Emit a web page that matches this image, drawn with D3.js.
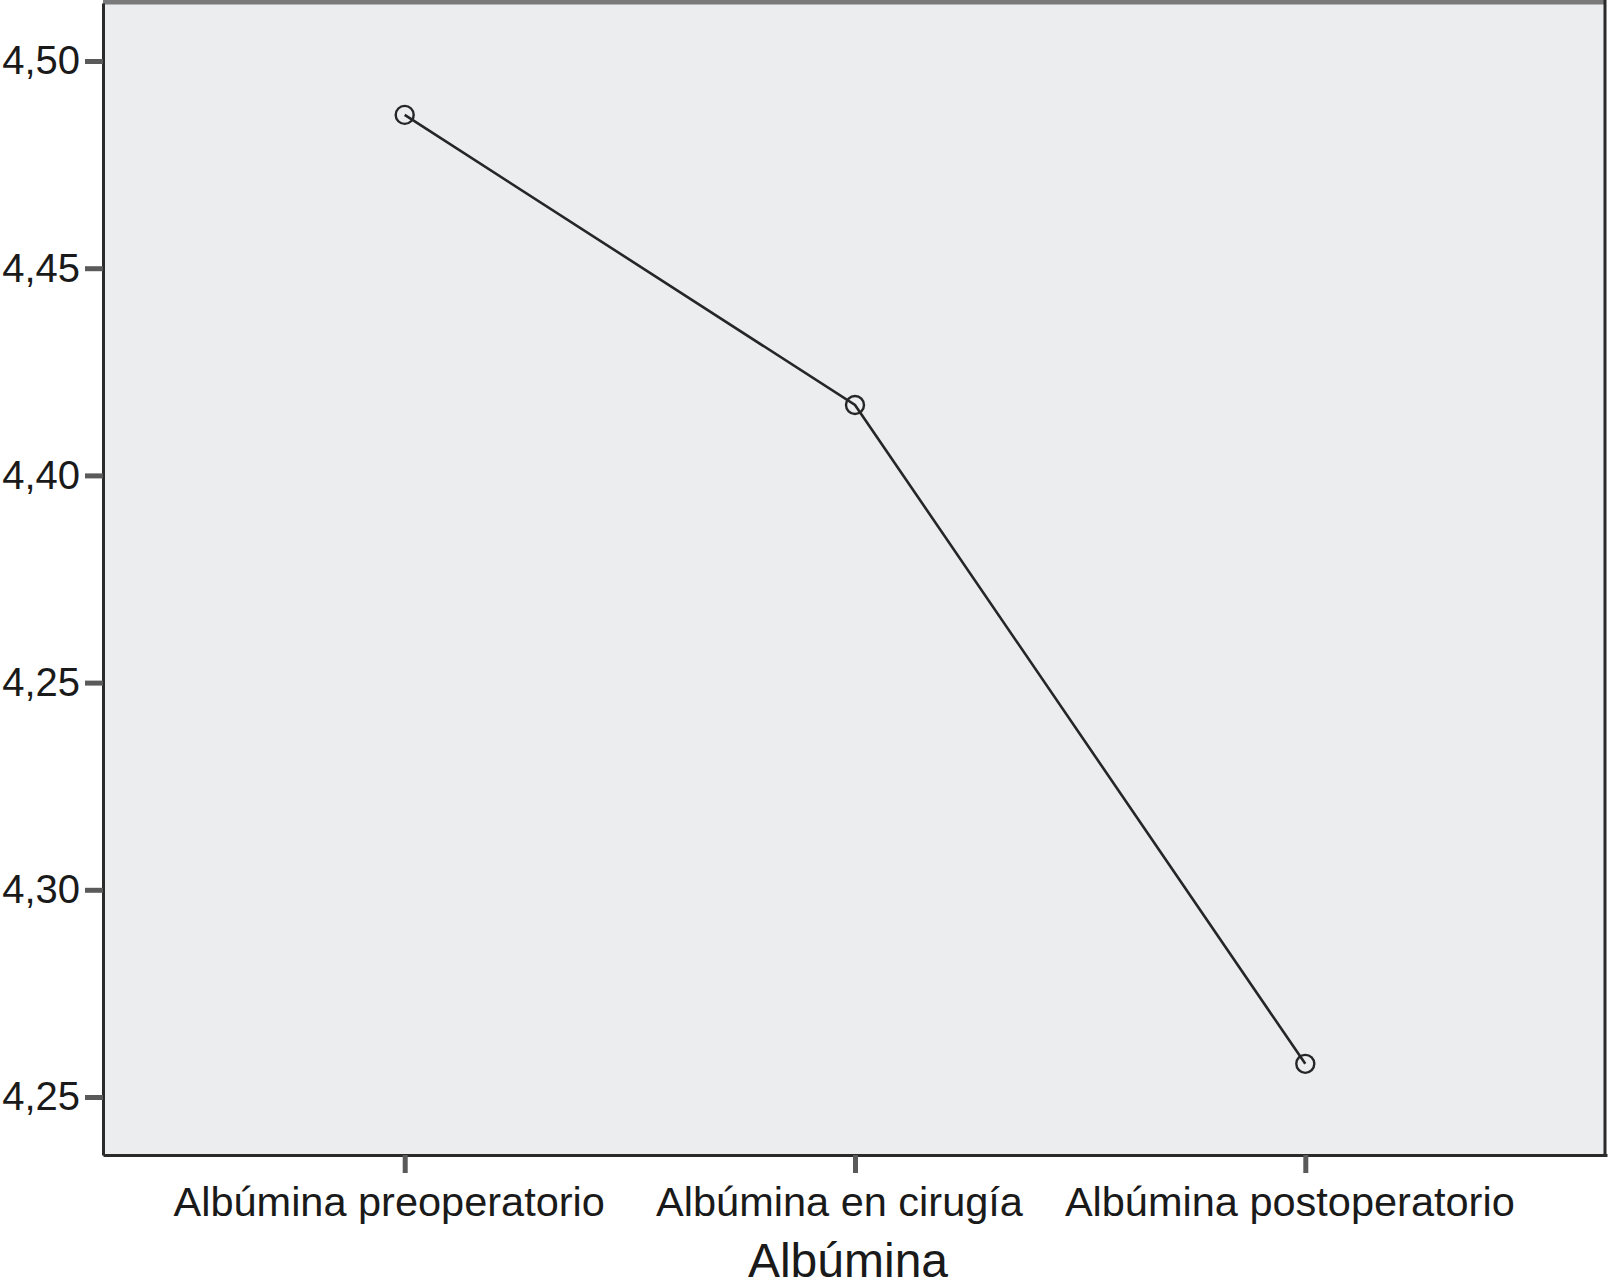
<!DOCTYPE html>
<html>
<head>
<meta charset="utf-8">
<script src="https://cdn.jsdelivr.net/npm/d3@7"></script>
<style>
  body { margin: 0; background: #fff; }
  text { font-family: "Liberation Sans", Arial, sans-serif; fill: #1a1a1a; }
</style>
</head>
<body>
<div id="chart"></div>
<script>
// Data
var categories = ["Albúmina preoperatorio", "Albúmina en cirugía", "Albúmina postoperatorio"];
var means = [4.487, 4.417, 4.258];
var tickValues = [4.50, 4.45, 4.40, 4.35, 4.30, 4.25];
// labels as printed in the original (sic)
var tickLabels = ["4,50", "4,45", "4,40", "4,25", "4,30", "4,25"];
var xTitle = "Albúmina";

var width = 1608, height = 1286;
var margin = {top: 3, right: 3, bottom: 131, left: 103};

var svg = d3.select("#chart")
  .append("svg")
    .attr("width", width)
    .attr("height", height);

var x = d3.scalePoint()
    .domain(categories)
    .range([margin.left, width - 1])
    .padding(0.67);

var y = d3.scaleLinear()
    .domain([4.236, 4.514])
    .range([height - margin.bottom, margin.top]);

// plot background + frame
svg.append("rect")
    .attr("x", margin.left)
    .attr("y", margin.top)
    .attr("width", width - margin.right - margin.left)
    .attr("height", height - margin.bottom - margin.top)
    .attr("fill", "#ecedef");

svg.append("line")
    .attr("x1", margin.left).attr("x2", width - margin.right + 1)
    .attr("y1", margin.top - 1).attr("y2", margin.top - 1)
    .attr("stroke", "#7a7a7a").attr("stroke-width", 5);

svg.append("line")
    .attr("x1", width - margin.right).attr("x2", width - margin.right)
    .attr("y1", margin.top - 3).attr("y2", height - margin.bottom)
    .attr("stroke", "#2a2a2a").attr("stroke-width", 3);

function yAxis(g) {
  g.attr("transform", `translate(${margin.left},0)`)
    .call(d3.axisLeft(y)
      .tickValues(tickValues)
      .tickSize(18)
      .tickSizeOuter(0)
      .tickPadding(5)
      .tickFormat((d, i) => tickLabels[i]));
  g.select(".domain").attr("stroke", "#2a2a2a").attr("stroke-width", 3);
  g.selectAll(".tick line").attr("stroke", "#5a5a5a").attr("stroke-width", 5);
  g.selectAll(".tick text").attr("font-size", 40).attr("fill", "#1a1a1a");
}

function xAxis(g) {
  g.attr("transform", `translate(0,${height - margin.bottom})`)
    .call(d3.axisBottom(x).tickSize(18).tickSizeOuter(0).tickPadding(14));
  g.select(".domain").attr("stroke", "#2a2a2a").attr("stroke-width", 3);
  g.selectAll(".tick line").attr("stroke", "#5a5a5a").attr("stroke-width", 5);
  g.selectAll(".tick text")
      .attr("font-size", 41.5)
      .attr("fill", "#1a1a1a")
      .attr("dx", -16);
}

svg.append("g").call(yAxis);
svg.append("g").call(xAxis);

// the line of means
var line = d3.line()
    .x((d, i) => x(categories[i]))
    .y(d => y(d));

svg.append("path")
    .datum(means)
    .attr("fill", "none")
    .attr("stroke", "#262626")
    .attr("stroke-width", 2.6)
    .attr("d", line);

svg.append("g")
  .selectAll("circle")
  .data(means)
  .join("circle")
    .attr("cx", (d, i) => x(categories[i]))
    .attr("cy", d => y(d))
    .attr("r", 9)
    .attr("fill", "none")
    .attr("stroke", "#262626")
    .attr("stroke-width", 2.4);

// axis title
svg.append("text")
    .attr("x", 848)
    .attr("y", 1277)
    .attr("text-anchor", "middle")
    .attr("font-size", 48)
    .text(xTitle);
</script>
</body>
</html>
